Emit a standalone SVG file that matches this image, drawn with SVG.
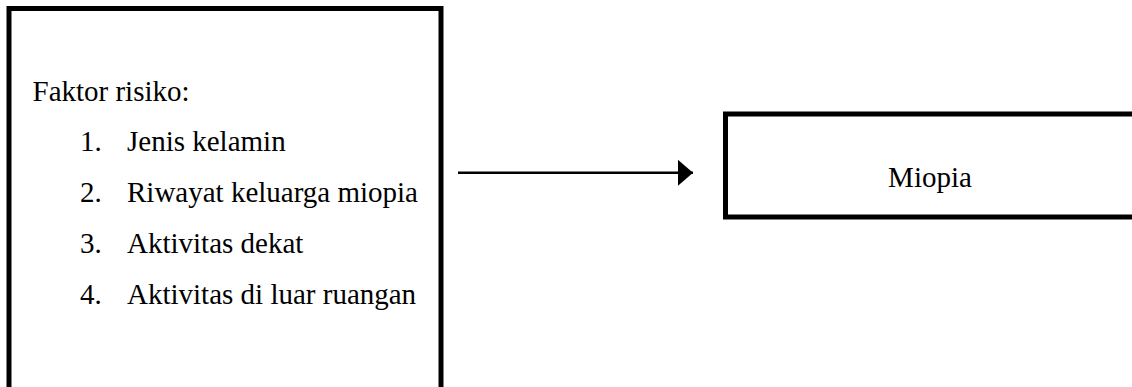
<svg xmlns="http://www.w3.org/2000/svg" width="1132" height="387" viewBox="0 0 1132 387">
  <style>
    .box { fill: #ffffff; stroke: #000000; stroke-width: 5; }
    .t { font-family: 'Liberation Serif', Tinos, 'Times New Roman', Times, 'DejaVu Serif', serif; font-size: 29px; fill: #000000; }
    .conn { stroke: #000000; stroke-width: 2.5; fill: none; }
  </style>
  <defs>
    <marker id="arrow" markerUnits="userSpaceOnUse" markerWidth="16" markerHeight="26" refX="15" refY="13" orient="auto">
      <path d="M0,0 L15,13 L0,26 Z" fill="#000000"/>
    </marker>
  </defs>
  <rect width="1132" height="387" fill="#ffffff"/>
  <g id="node-faktor-risiko">
    <rect class="box" x="9" y="8.5" width="432" height="400"/>
    <text class="t" x="32.5" y="100.5">Faktor risiko:</text>
    <text class="t" x="80" y="151">1.</text>
    <text class="t" x="127" y="151">Jenis kelamin</text>
    <text class="t" x="80" y="202">2.</text>
    <text class="t" x="127" y="202">Riwayat keluarga miopia</text>
    <text class="t" x="80" y="253">3.</text>
    <text class="t" x="127" y="253">Aktivitas dekat</text>
    <text class="t" x="80" y="304">4.</text>
    <text class="t" x="127" y="304">Aktivitas di luar ruangan</text>
  </g>
  <g id="node-miopia">
    <rect class="box" x="725.5" y="114" width="420" height="103"/>
    <text class="t" x="930" y="187" text-anchor="middle">Miopia</text>
  </g>
  <g id="connectors">
    <line class="conn" x1="458" y1="172.8" x2="693" y2="172.8" marker-end="url(#arrow)"/>
  </g>
</svg>
